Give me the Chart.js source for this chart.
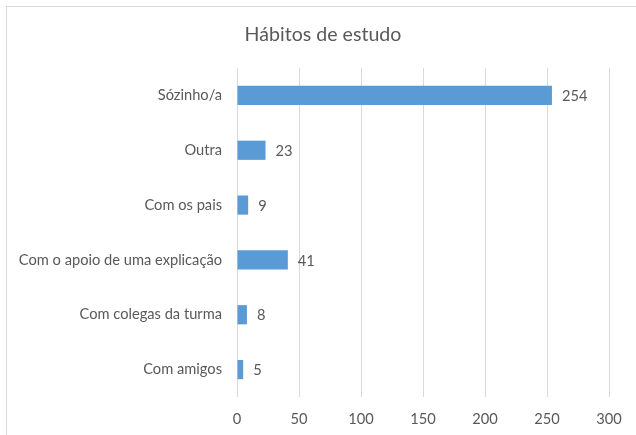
<!DOCTYPE html>
<html>
<head>
<meta charset="utf-8">
<script src="https://cdn.jsdelivr.net/npm/chart.js@4"></script>
<style>
  html, body { margin: 0; padding: 0; background: #fff; overflow: hidden; }
  #frame { position: absolute; left: 6px; top: 6px; width: 640px; height: 440px; border: 1px solid #d9d9d9; box-sizing: border-box; }
  #wrap { position: absolute; left: 0; top: 0; width: 636px; height: 435px; }
</style>
</head>
<body>
<div id="frame"></div>
<div id="wrap"><canvas id="c" width="636" height="435"></canvas></div>
<script>
const categories = ["Sózinho/a", "Outra", "Com os pais", "Com o apoio de uma explicação", "Com colegas da turma", "Com amigos"];
const values = [254, 23, 9, 41, 8, 5];
const xTicks = [0, 50, 100, 150, 200, 250, 300];
const title = "Hábitos de estudo";

const FONT = "Lato, 'Open Sans', sans-serif";
const TXT = "#595959";
const FS = 14.67;

const dataLabels = {
  id: "dataLabels",
  afterDatasetsDraw(chart) {
    const ctx = chart.ctx;
    const meta = chart.getDatasetMeta(0);
    ctx.save();
    ctx.font = FS + "px " + FONT;
    ctx.fillStyle = TXT;
    ctx.textAlign = "left";
    ctx.textBaseline = "middle";
    meta.data.forEach((bar, i) => {
      ctx.fillText(String(values[i]), bar.x + 10, bar.y + 1);
    });
    ctx.restore();
  }
};

const titlePlugin = {
  id: "titleDraw",
  afterDraw(chart) {
    const ctx = chart.ctx;
    ctx.save();
    ctx.font = "19.6px " + FONT;
    ctx.fillStyle = TXT;
    ctx.textAlign = "center";
    ctx.textBaseline = "middle";
    ctx.fillText(title, chart.width / 2 + 5, 35);
    ctx.restore();
  }
};

new Chart(document.getElementById("c"), {
  type: "bar",
  data: {
    labels: categories,
    datasets: [{
      data: values,
      backgroundColor: "#5b9bd5",
      borderWidth: 0,
      categoryPercentage: 1.0,
      barPercentage: 0.35
    }]
  },
  options: {
    indexAxis: "y",
    responsive: false,
    animation: false,
    devicePixelRatio: 1,
    layout: { padding: { left: 0, right: 27, top: 68, bottom: 7 } },
    plugins: {
      legend: { display: false },
      tooltip: { enabled: false },
      title: { display: false }
    },
    scales: {
      x: {
        min: 0, max: 300,
        afterBuildTicks(scale) { scale.ticks = xTicks.map(v => ({ value: v })); },
        grid: { color: "#d9d9d9", drawTicks: false },
        border: { display: false },
        ticks: { color: TXT, font: { family: FONT, size: FS }, padding: 13 },
        afterFit(scale) { scale.height = 31; }
      },
      y: {
        grid: { display: false, drawTicks: false },
        border: { display: false },
        ticks: { color: TXT, font: { family: FONT, size: FS }, padding: 15 },
        afterFit(scale) { scale.width = 237; }
      }
    }
  },
  plugins: [dataLabels, titlePlugin]
});
</script>
</body>
</html>
